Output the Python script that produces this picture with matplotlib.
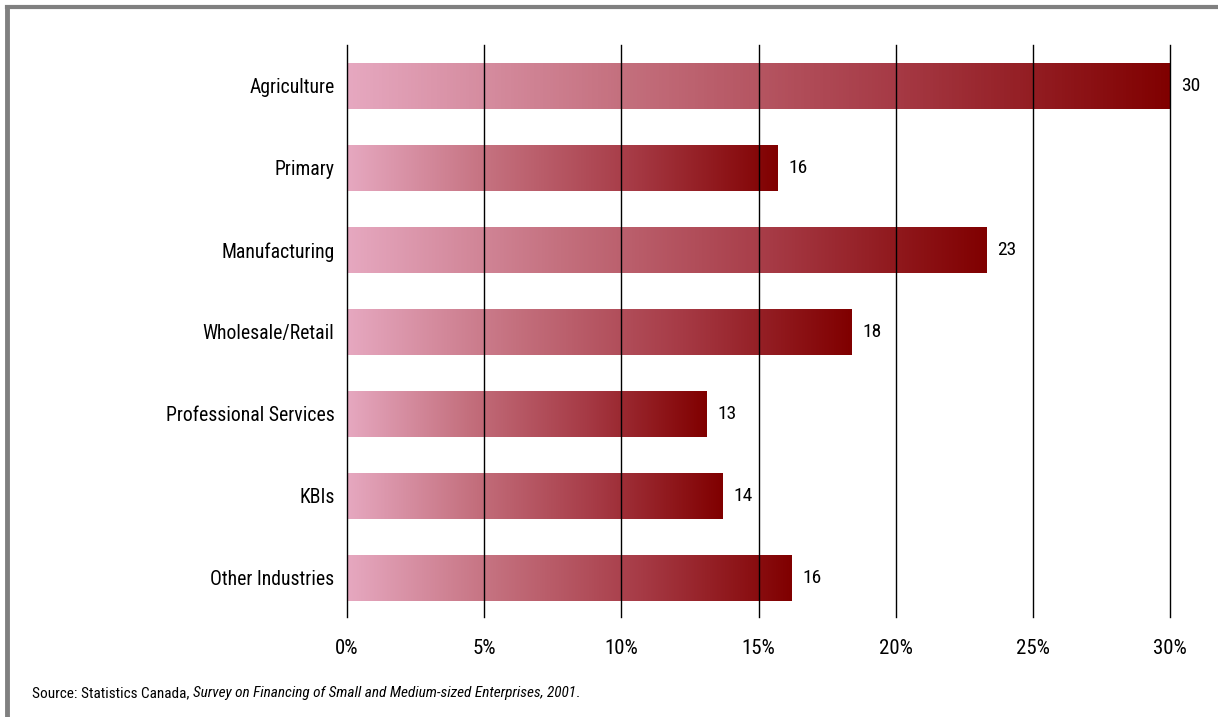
import numpy as np
import matplotlib.pyplot as plt
from matplotlib.colors import LinearSegmentedColormap
from matplotlib.lines import Line2D
from matplotlib import font_manager

# Share of SMEs by industry (percent)
industries = ['Agriculture', 'Primary', 'Manufacturing', 'Wholesale/Retail',
              'Professional Services', 'KBIs', 'Other Industries']
shares = [30.0, 15.7, 23.3, 18.4, 13.1, 13.7, 16.2]
xticks = [0, 5, 10, 15, 20, 25, 30]
xtick_labels = ['0%', '5%', '10%', '15%', '20%', '25%', '30%']

# pick a condensed sans face
names = {f.name for f in font_manager.fontManager.ttflist}
font = 'DejaVu Sans'
for cand in ['Roboto Condensed', 'Archivo Narrow', 'PT Sans Narrow', 'Pragati Narrow',
             'Fira Sans Condensed', 'IBM Plex Sans Condensed', 'Liberation Sans Narrow']:
    if cand in names:
        font = cand
        break
plt.rcParams['font.family'] = font

fig = plt.figure(figsize=(12.18, 7.17), dpi=100)
ax = fig.add_axes([0.2849, 0.1395, 0.9606 - 0.2849, 0.9372 - 0.1395])

# pink -> dark red gradient along each bar
cmap = LinearSegmentedColormap.from_list('pinkred', ['#e6a8c0', '#c4707e', '#a63a45', '#800000'])
grad = np.linspace(0, 1, 256).reshape(1, -1)

ypos = np.arange(len(industries))
bars = ax.barh(ypos, shares, height=0.56, color='none', edgecolor='none', zorder=2)
for bar in bars:
    x0, y0 = bar.get_x(), bar.get_y()
    im = ax.imshow(grad, cmap=cmap, aspect='auto', zorder=2,
                   extent=[x0, x0 + bar.get_width(), y0 + bar.get_height(), y0])
    im.set_clip_path(bar)

# value labels
for y, v in zip(ypos, shares):
    ax.text(v + 0.4, y, f'{v:.0f}', va='center', ha='left', fontsize=14)

# vertical grid lines over the bars
for t in xticks:
    ax.axvline(t, color='black', lw=1.0, zorder=3, clip_on=False)

ax.set_xlim(0, 30)
ax.set_ylim(6.48, -0.5)
ax.set_xticks(xticks)
ax.set_xticklabels(xtick_labels, fontsize=15)
ax.set_yticks(ypos)
ax.set_yticklabels(industries, fontsize=14.2)
ax.tick_params(axis='both', length=0)
ax.tick_params(axis='x', pad=16)
ax.tick_params(axis='y', pad=9)
for s in ax.spines.values():
    s.set_visible(False)

# source note, title of the survey in italics
sy = 1 - 693 / 717
t1 = fig.text(32 / 1218, sy, 'Source: Statistics Canada, ', fontsize=11, va='center', ha='left')
fig.canvas.draw()
bb = t1.get_window_extent()
t2 = fig.text(bb.x1 / 1218, sy,
              'Survey on Financing of Small and Medium-sized Enterprises, 2001',
              fontsize=11, va='center', ha='left', style='italic')
bb2 = t2.get_window_extent(fig.canvas.get_renderer())
fig.text(bb2.x1 / 1218, sy, '.', fontsize=11, va='center', ha='left')

# gray frame on top and left
fig.add_artist(Line2D([7 / 1218, 1], [1 - 7 / 717, 1 - 7 / 717], color='#808080', lw=3))
fig.add_artist(Line2D([7 / 1218, 7 / 1218], [0, 1 - 7 / 717], color='#808080', lw=3.5))

fig.savefig('out.png', dpi=100)
